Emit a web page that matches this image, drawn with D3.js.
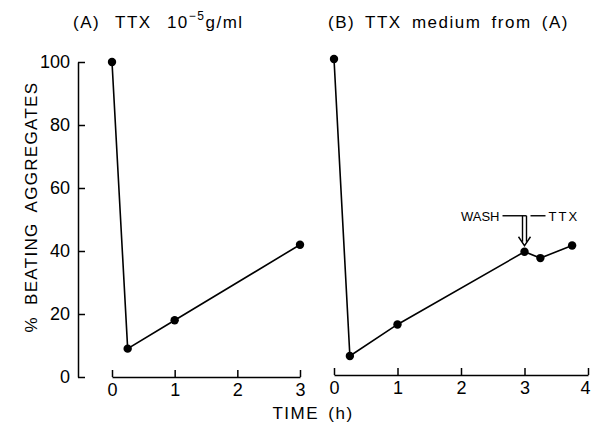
<!DOCTYPE html>
<html>
<head>
<meta charset="utf-8">
<script src="https://cdn.jsdelivr.net/npm/d3@7/dist/d3.min.js"></script>
<style>
  body { margin: 0; background: #fff; }
  svg { display: block; }
  text { font-family: "Liberation Sans", Arial, sans-serif; fill: #000; }
</style>
</head>
<body>
<svg id="chart" width="591" height="428"></svg>
<script>
// ---- data ----
const panelATime = [0, 0.25, 1, 3];
const panelAPct  = [100, 9, 18, 42];
const panelBTime = [0, 0.25, 1, 3, 3.25, 3.75];
const panelBPct  = [100, 6, 16, 39, 37, 41];
const yTicks  = [0, 20, 40, 60, 80, 100];
const xTicksA = [0, 1, 2, 3];
const xTicksB = [0, 1, 2, 3, 4];
const titleA = "(A) TTX 10";
const titleB = "(B) TTX medium from (A)";
const yTitle = "% BEATING AGGREGATES";
const xTitle = "TIME (h)";

const svg = d3.select("#chart");

const xA = d3.scaleLinear().domain([0, 3]).range([112, 300]);
const yA = d3.scaleLinear().domain([0, 100]).range([377, 62]);
const xB = d3.scaleLinear().domain([0, 4]).range([334, 588]);
const yB = d3.scaleLinear().domain([0, 100]).range([375, 59]);

// y axis (panel A)
const yAxis = d3.axisLeft(yA).tickValues(yTicks).tickFormat(d3.format("d"))
  .tickSizeInner(-7).tickSizeOuter(0).tickPadding(8);
const gy = svg.append("g").attr("transform", "translate(78,0)").call(yAxis);

// x axes
function xAxisFor(scale, ticks) {
  return d3.axisBottom(scale).tickValues(ticks).tickFormat(d3.format("d"))
    .tickSizeInner(-7).tickSizeOuter(0).tickPadding(6);
}
const gxA = svg.append("g").attr("transform", "translate(0,377)").call(xAxisFor(xA, xTicksA));
const gxB = svg.append("g").attr("transform", "translate(0,375)").call(xAxisFor(xB, xTicksB));
[gy, gxA, gxB].forEach(g => {
  g.select(".domain").attr("stroke", "#000").attr("stroke-width", 1.5);
  g.selectAll(".tick line").attr("stroke", "#000").attr("stroke-width", 1.5);
  g.selectAll("text").style("font-size", "18px").attr("fill", "#000")
    .attr("font-family", "Liberation Sans");
});
// keep the last label of panel B inside the picture
gxB.selectAll(".tick text").filter(d => d === 4).attr("dx", -3);

// lines + points
function drawSeries(xs, ys, xScale, yScale) {
  const pts = xs.map((t, i) => [t, ys[i]]);
  const line = d3.line().x(d => xScale(d[0])).y(d => yScale(d[1]));
  svg.append("path").datum(pts).attr("d", line)
    .attr("fill", "none").attr("stroke", "#000").attr("stroke-width", 1.6);
  svg.append("g").selectAll("circle").data(pts).join("circle")
    .attr("cx", d => xScale(d[0])).attr("cy", d => yScale(d[1])).attr("r", 4.2)
    .attr("fill", "#000");
}
drawSeries(panelATime, panelAPct, xA, yA);
drawSeries(panelBTime, panelBPct, xB, yB);

// titles
const tA = svg.append("text").attr("x", 73).attr("y", 28)
  .style("font-size", "17px").style("word-spacing", "9px").style("letter-spacing", "1.5px");
tA.append("tspan").text(titleA);
tA.append("tspan").text("−5").style("font-size", "12px").attr("dy", -8);
tA.append("tspan").text("g/ml").attr("dy", 8);

svg.append("text").attr("x", 328).attr("y", 28)
  .style("font-size", "17px").style("word-spacing", "4px").style("letter-spacing", "1.5px")
  .text(titleB);

// axis titles
svg.append("text").attr("transform", "translate(37,207) rotate(-90)")
  .attr("text-anchor", "middle").style("font-size", "17px").style("letter-spacing", "1.3px")
  .style("word-spacing", "5px").text(yTitle);

svg.append("text").attr("x", 313).attr("y", 419).attr("text-anchor", "middle")
  .style("font-size", "17px").style("letter-spacing", "1.5px").style("word-spacing", "3px")
  .text(xTitle);

// WASH / TTX annotation
const ax = xB(3);
const tipY = yB(panelBPct[3]) - 6;
const topY = tipY - 30;
const ann = svg.append("g").attr("stroke", "#000").attr("stroke-width", 1.4).attr("fill", "none");
ann.append("line").attr("x1", ax - 22).attr("x2", ax + 2).attr("y1", topY).attr("y2", topY);
ann.append("line").attr("x1", ax + 6).attr("x2", ax + 21).attr("y1", topY).attr("y2", topY);
ann.append("line").attr("x1", ax - 2).attr("x2", ax - 2).attr("y1", topY).attr("y2", tipY - 4);
ann.append("line").attr("x1", ax + 2).attr("x2", ax + 2).attr("y1", topY).attr("y2", tipY - 4);
ann.append("path").attr("d", `M${ax - 6},${tipY - 9} L${ax},${tipY} L${ax + 6},${tipY - 9}`);
svg.append("text").attr("x", ax - 25).attr("y", topY + 5).attr("text-anchor", "end")
  .style("font-size", "13px").text("WASH");
svg.append("text").attr("x", ax + 24).attr("y", topY + 5)
  .style("font-size", "13px").style("letter-spacing", "2px").text("TTX");
</script>
</body>
</html>
